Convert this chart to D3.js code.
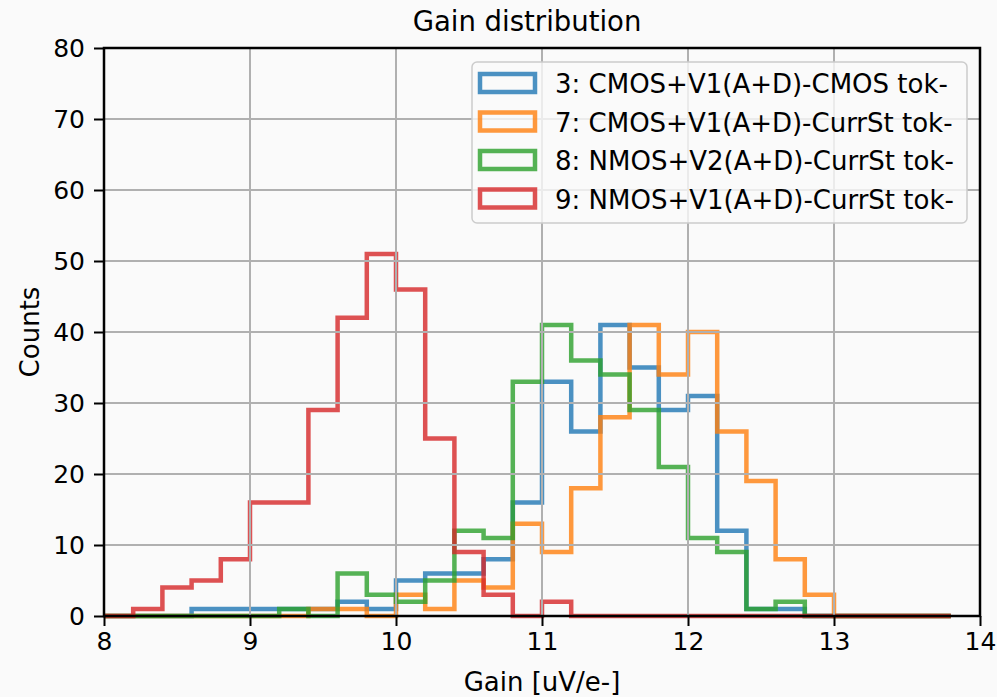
<!DOCTYPE html>
<html>
<head>
<meta charset="utf-8">
<script src="https://cdn.jsdelivr.net/npm/d3@7/dist/d3.min.js"></script>
<style>
  html, body { margin: 0; padding: 0; background: #fafafa; }
  svg { display: block; }
  text { font-family: "DejaVu Sans", sans-serif; fill: #000; }
</style>
</head>
<body>
<svg id="chart" width="997" height="697"></svg>
<script>
// Histogram bin edges (width 0.2 uV/e-)
const binEdges = [8.0, 8.2, 8.4, 8.6, 8.8, 9.0, 9.2, 9.4, 9.6, 9.8,
                  10.0, 10.2, 10.4, 10.6, 10.8, 11.0, 11.2, 11.4, 11.6, 11.8,
                  12.0, 12.2, 12.4, 12.6, 12.8, 13.0, 13.2, 13.4, 13.6, 13.8];

// Counts per bin for each chip configuration
const counts3 = [0, 0, 0, 1, 1, 1, 1, 1, 2, 1, 5, 6, 6, 8, 16, 33, 26, 41, 35, 29, 31, 12, 1, 1, 0, 0, 0, 0, 0];
const counts7 = [0, 0, 0, 0, 0, 0, 0, 1, 1, 0, 3, 1, 5, 4, 13, 9, 18, 28, 41, 34, 40, 26, 19, 8, 3, 0, 0, 0, 0];
const counts8 = [0, 0, 0, 0, 0, 0, 1, 0, 6, 3, 2, 5, 12, 11, 33, 41, 36, 34, 29, 21, 11, 9, 1, 2, 0, 0, 0, 0, 0];
const counts9 = [0, 1, 4, 5, 8, 16, 16, 29, 42, 51, 46, 25, 9, 3, 0, 2, 0, 0, 0, 0, 0, 0, 0, 0, 0, 0, 0, 0, 0];

const seriesNames = [
  "3: CMOS+V1(A+D)-CMOS tok-",
  "7: CMOS+V1(A+D)-CurrSt tok-",
  "8: NMOS+V2(A+D)-CurrSt tok-",
  "9: NMOS+V1(A+D)-CurrSt tok-"
];
const seriesColors = ["#1f77b4", "#ff7f0e", "#2ca02c", "#d62728"];
const seriesCounts = [counts3, counts7, counts8, counts9];

const xTicks = [8, 9, 10, 11, 12, 13, 14];
const yTicks = [0, 10, 20, 30, 40, 50, 60, 70, 80];

const titleText = "Gain distribution";
const xLabel = "Gain [uV/e-]";
const yLabel = "Counts";

// Layout
const W = 997, H = 697;
const m = { left: 104, right: 980, top: 48, bottom: 616 };

const svg = d3.select("#chart");
svg.append("rect").attr("width", W).attr("height", H).attr("fill", "#fafafa");

const x = d3.scaleLinear().domain([8, 14]).range([m.left, m.right]);
const y = d3.scaleLinear().domain([0, 80]).range([m.bottom, m.top]);

// Step outline of a histogram: starts and ends on the baseline
function stepPoints(counts) {
  const pts = [[binEdges[0], 0]];
  counts.forEach((c, i) => {
    pts.push([binEdges[i], c]);
    pts.push([binEdges[i + 1], c]);
  });
  pts.push([binEdges[binEdges.length - 1], 0]);
  return pts;
}
const line = d3.line().x(d => x(d[0])).y(d => y(d[1]));

const histLayer = svg.append("g");
seriesCounts.forEach((counts, i) => {
  histLayer.append("path")
    .attr("d", line(stepPoints(counts)))
    .attr("fill", "none")
    .attr("stroke", seriesColors[i])
    .attr("stroke-opacity", 0.8)
    .attr("stroke-width", 4.5)
    .attr("stroke-linejoin", "miter");
});

// Grid (drawn above the histogram outlines)
const grid = svg.append("g");
grid.selectAll("line.gx").data(xTicks).join("line")
  .attr("x1", d => x(d)).attr("x2", d => x(d))
  .attr("y1", m.top).attr("y2", m.bottom)
  .attr("stroke", "#b0b0b0").attr("stroke-width", 2);
grid.selectAll("line.gy").data(yTicks).join("line")
  .attr("x1", m.left).attr("x2", m.right)
  .attr("y1", d => y(d)).attr("y2", d => y(d))
  .attr("stroke", "#b0b0b0").attr("stroke-width", 2);

// Axes
const tickFont = 25;
const labelFont = 26;
const xAxis = svg.append("g")
  .attr("transform", `translate(0,${m.bottom})`)
  .call(d3.axisBottom(x).tickValues(xTicks).tickFormat(d3.format("d")).tickSize(10).tickPadding(6));
const yAxis = svg.append("g")
  .attr("transform", `translate(${m.left},0)`)
  .call(d3.axisLeft(y).tickValues(yTicks).tickFormat(d3.format("d")).tickSize(10).tickPadding(9));
[xAxis, yAxis].forEach(a => {
  a.select(".domain").remove();
  a.selectAll(".tick line").attr("stroke", "#000").attr("stroke-width", 2);
  a.selectAll(".tick text")
    .attr("font-family", "DejaVu Sans").attr("font-size", tickFont).attr("fill", "#000");
});

// Frame
svg.append("rect")
  .attr("x", m.left).attr("y", m.top)
  .attr("width", m.right - m.left).attr("height", m.bottom - m.top)
  .attr("fill", "none").attr("stroke", "#000").attr("stroke-width", 2.5);

// Title and axis labels
svg.append("text").attr("x", 527).attr("y", 31)
  .attr("text-anchor", "middle").attr("font-size", 27.5).text(titleText);
svg.append("text").attr("x", (m.left + m.right) / 2).attr("y", 691)
  .attr("text-anchor", "middle").attr("font-size", labelFont).text(xLabel);
svg.append("text")
  .attr("transform", `translate(39,${(m.top + m.bottom) / 2}) rotate(-90)`)
  .attr("text-anchor", "middle").attr("font-size", labelFont).text(yLabel);

// Legend
const lg = svg.append("g").attr("transform", "translate(472,62)");
lg.append("rect").attr("width", 495).attr("height", 161).attr("rx", 5)
  .attr("fill", "#fafafa").attr("fill-opacity", 0.8)
  .attr("stroke", "#cccccc").attr("stroke-width", 1.5);
seriesNames.forEach((name, i) => {
  const cy = 21 + i * 38.5;
  lg.append("rect").attr("x", 8).attr("y", cy - 9).attr("width", 55).attr("height", 18)
    .attr("fill", "none").attr("stroke", seriesColors[i]).attr("stroke-opacity", 0.8)
    .attr("stroke-width", 4.5);
  lg.append("text").attr("x", 83).attr("y", cy + 10)
    .attr("font-size", labelFont).text(name);
});
</script>
</body>
</html>
